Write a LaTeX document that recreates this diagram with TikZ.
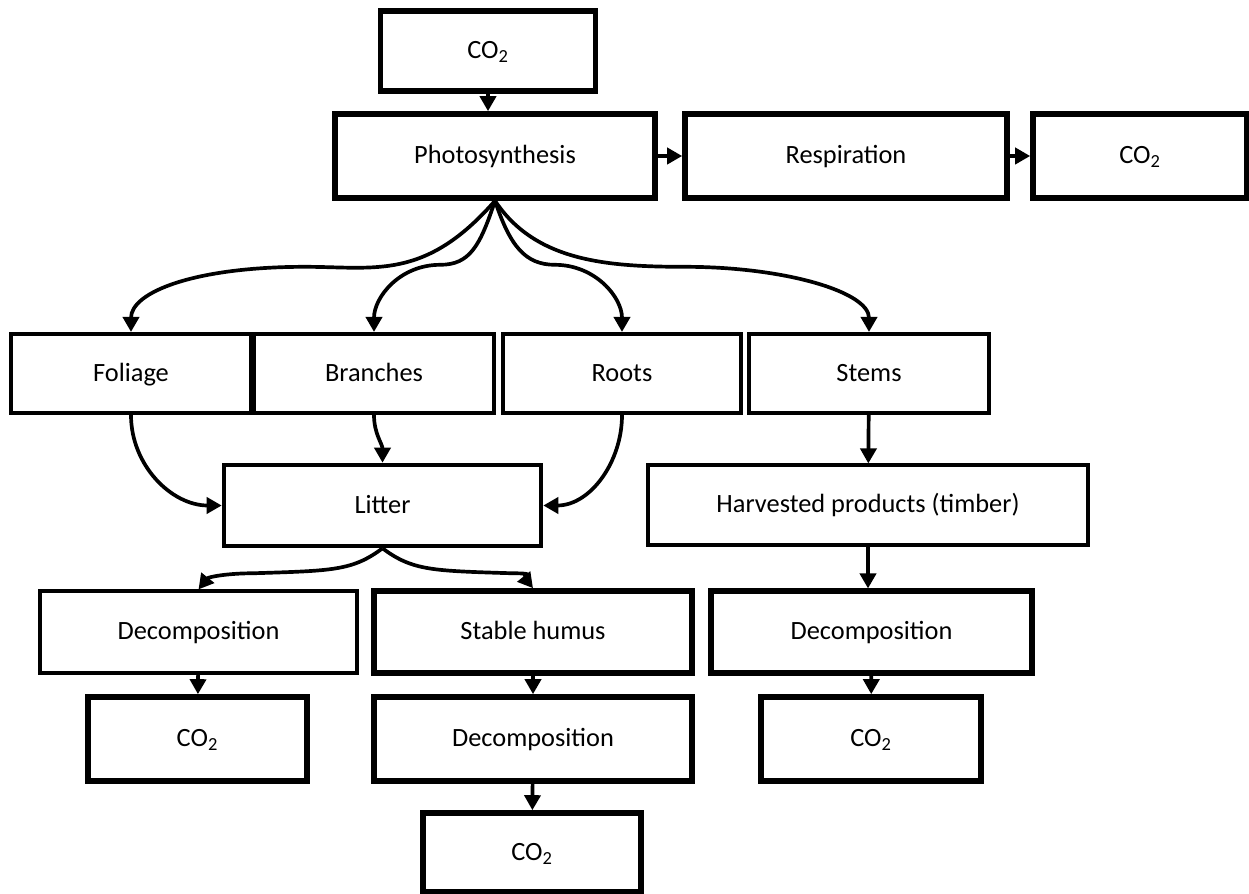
\documentclass[tikz,border=0pt]{standalone}
\usepackage{fontspec}
\setmainfont{Carlito}
\usetikzlibrary{arrows.meta,positioning,calc}

\begin{document}
\begin{tikzpicture}[
  stage/.style={draw,line width=1.8pt,align=center,inner sep=2pt,
    text height=1.05em,text depth=0.15em,
    font=\fontsize{15}{18}\selectfont},
  pool/.style={stage,line width=3.2pt},
  transfer/.style={-{Triangle[length=3mm,width=3.2mm]},line width=2.1pt}
]
% Page size follows the 1249 x 894 reference (0.02cm per pixel).
\useasboundingbox (0,0) rectangle (24.98,-17.88);

\node[pool,minimum width=4.3cm,minimum height=1.6cm] (co2-top) at (9.76,-1.02) {CO\textsubscript{2}};
\node[pool,minimum width=6.4cm,minimum height=1.68cm] (photo) at (9.9,-3.12) {Photosynthesis};
\node[pool,minimum width=6.44cm,minimum height=1.68cm] (resp) at (16.92,-3.12) {Respiration};
\node[pool,minimum width=4.28cm,minimum height=1.68cm] (co2-resp) at (22.8,-3.12) {CO\textsubscript{2}};

\node[stage,line width=2.3pt,minimum width=4.8cm,minimum height=1.58cm] (foliage) at (2.62,-7.47) {Foliage};
\node[stage,line width=2.3pt,minimum width=4.8cm,minimum height=1.58cm] (branches) at (7.48,-7.47) {Branches};
\node[stage,line width=2.3pt,minimum width=4.76cm,minimum height=1.58cm] (roots) at (12.44,-7.47) {Roots};
\node[stage,line width=2.3pt,minimum width=4.8cm,minimum height=1.58cm] (stems) at (17.38,-7.47) {Stems};

\node[pool,line width=2.6pt,minimum width=6.34cm,minimum height=1.62cm] (litter) at (7.65,-10.11) {Litter};
\node[stage,minimum width=8.8cm,minimum height=1.6cm] (timber) at (17.36,-10.1) {Harvested products (timber)};

\node[stage,minimum width=6.34cm,minimum height=1.64cm] (decomp-l) at (3.97,-12.64) {Decomposition};
\node[pool,minimum width=6.36cm,minimum height=1.64cm] (humus) at (10.66,-12.64) {Stable humus};
\node[pool,line width=2.9pt,minimum width=6.42cm,minimum height=1.64cm] (decomp-r) at (17.43,-12.64) {Decomposition};

\node[pool,minimum width=4.38cm,minimum height=1.68cm] (co2-l) at (3.95,-14.78) {CO\textsubscript{2}};
\node[pool,minimum width=6.36cm,minimum height=1.68cm] (decomp-m) at (10.66,-14.78) {Decomposition};
\node[pool,minimum width=4.4cm,minimum height=1.68cm] (co2-r) at (17.42,-14.78) {CO\textsubscript{2}};
\node[pool,minimum width=4.36cm,minimum height=1.58cm] (co2-m) at (10.64,-17.05) {CO\textsubscript{2}};

\draw[transfer] (co2-top.south) -- (co2-top.south |- photo.north);
\draw[transfer] (photo) -- (resp);
\draw[transfer] (resp) -- (co2-resp);

\draw[transfer] (photo.south) .. controls +(-1.4,-1.6) and +(1.4,0) .. +(-3.8,-1.32)
  .. controls +(-2.2,0) and +(0,0.8) .. (foliage.north);
\draw[transfer] (photo.south) .. controls +(-0.3,-0.9) and +(0.6,0) .. +(-1.1,-1.28)
  .. controls +(-0.8,0) and +(0,0.7) .. (branches.north);
\draw[transfer] (photo.south) .. controls +(0.3,-0.9) and +(-0.6,0) .. +(1.2,-1.28)
  .. controls +(0.8,0) and +(0,0.7) .. (roots.north);
\draw[transfer] (photo.south) .. controls +(0.8,-1.2) and +(-1.6,0) .. +(3.8,-1.32)
  .. controls +(2,0) and +(0,0.8) .. (stems.north);

\draw[transfer] (foliage.south) to[out=-90,in=180] (litter.west);
\draw[transfer] (branches.south) to[out=-90,in=90] (litter.north);
\draw[transfer] (roots.south) to[out=-90,in=0] (litter.east);
\draw[transfer] (stems) -- (timber);

\draw[transfer] (litter.south) .. controls +(-0.6,-0.45) and +(1.6,0.05) .. +(-2.6,-0.5)
  .. controls +(-0.5,0) and +(0.2,0.25) .. (decomp-l.north);
\draw[transfer] (litter.south) .. controls +(0.6,-0.45) and +(-1.6,0.05) .. +(2.6,-0.5)
  .. controls +(0.5,0) and +(-0.2,0.25) .. (humus.north);

\draw[transfer] (timber.south) -- (timber.south |- decomp-r.north);
\draw[transfer] (decomp-l) -- (co2-l);
\draw[transfer] (humus) -- (decomp-m);
\draw[transfer] (decomp-m) -- (co2-m);
\draw[transfer] (decomp-r) -- (co2-r);
\end{tikzpicture}
\end{document}
